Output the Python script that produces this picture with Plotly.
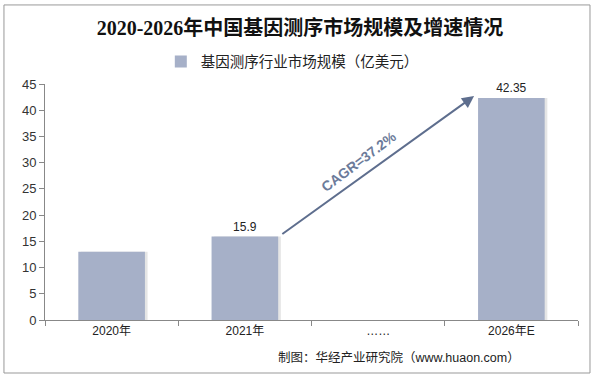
import plotly.graph_objects as go

categories = ["2020年", "2021年", "……", "2026年E"]
values = [13.0, 15.9, None, 42.35]
labels = ["", "15.9", "", "42.35"]
series_name = "基因测序行业市场规模（亿美元）"
title = "2020-2026年中国基因测序市场规模及增速情况"
cagr_text = "CAGR=37.2%"
source_text = "制图：华经产业研究院（www.huaon.com）"

bar_color = "#A6B0C8"
font_sans = "Liberation Sans, Arial, Noto Sans CJK SC, sans-serif"

fig = go.Figure()
# soft shadow behind bars
fig.add_trace(go.Bar(
    x=categories, y=values, showlegend=False, hoverinfo="skip",
    marker=dict(color="rgba(0,0,0,0.10)", line=dict(width=0)),
    width=0.5, offset=-0.23,
))
fig.add_trace(go.Bar(
    x=categories, y=values, name=series_name,
    marker=dict(color=bar_color, line=dict(width=0)),
    text=labels, textposition="outside", cliponaxis=False,
    textfont=dict(size=12, color="#222", family=font_sans),
    width=0.5, offset=-0.25, showlegend=True,
))

fig.update_layout(
    width=600, height=380,
    barmode="overlay",
    margin=dict(l=45, r=22, t=84, b=60),
    paper_bgcolor="white", plot_bgcolor="white",
    title=dict(text="<b>" + title + "</b>", x=0.5, xanchor="center", y=0.927, yanchor="middle",
               font=dict(size=20, color="#111", family="Liberation Serif, Noto Sans CJK SC, serif")),
    legend=dict(orientation="h", x=0.464, xanchor="center", y=1.095, yanchor="middle",
                font=dict(size=14.5, color="#222", family=font_sans),
                itemwidth=30, bgcolor="rgba(0,0,0,0)"),
    showlegend=True,
    font=dict(family=font_sans),
)

fig.update_yaxes(range=[0, 45], dtick=5, showgrid=False, zeroline=False,
                 showline=True, linecolor="#888", linewidth=1,
                 ticks="outside", ticklen=5, tickcolor="#888",
                 tickfont=dict(size=13, color="#333"), fixedrange=True)
fig.update_xaxes(showgrid=False, showline=True, linecolor="#888", linewidth=1,
                 ticks="outside", ticklen=5, tickcolor="#888", tickson="boundaries",
                 tickfont=dict(size=12, color="#222"), range=[-0.5, 3.5])

# outer border
fig.add_shape(type="rect", xref="paper", yref="paper",
              x0=-0.077, x1=1.0225, y0=-0.2246, y1=1.335,
              line=dict(color="#999", width=1), fillcolor="rgba(0,0,0,0)", layer="above")

# CAGR arrow
fig.add_annotation(x=2.72, y=42.7, ax=1.27, ay=16.2, xref="x", yref="y", axref="x", ayref="y",
                   text="", showarrow=True, arrowhead=2, arrowsize=1.2, arrowwidth=2,
                   arrowcolor="#5E6E8E")
fig.add_annotation(x=1.86, y=30.3, xref="x", yref="y", text="<b>" + cagr_text + "</b>",
                   showarrow=False, textangle=-37,
                   font=dict(size=14, color="#6C7B9A", family=font_sans))

# source
fig.add_annotation(x=0.894, y=-0.16, xref="paper", yref="paper", text=source_text,
                   showarrow=False, xanchor="right", yanchor="middle",
                   font=dict(size=12.5, color="#222", family=font_sans))

fig.write_html("out.html", config={"displayModeBar": False},
               post_script="document.body.style.margin='0';document.body.style.overflow='hidden';")
